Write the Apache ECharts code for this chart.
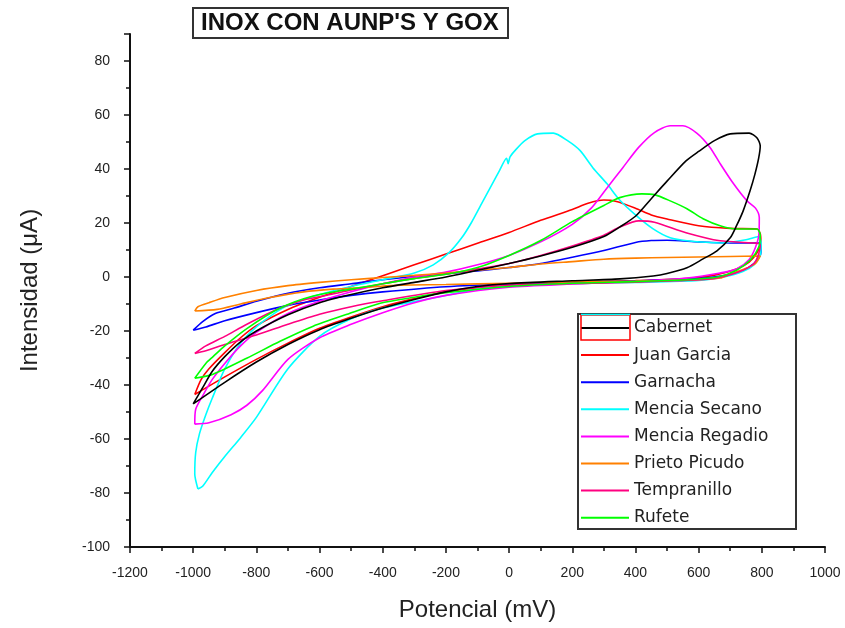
<!DOCTYPE html>
<html>
<head>
<meta charset="utf-8">
<script src="https://cdn.jsdelivr.net/npm/echarts@6/dist/echarts.min.js"></script>
<style>
  html, body { margin: 0; padding: 0; background: #fff; }
  #main { width: 845px; height: 628px; }
</style>
</head>
<body>
<div id="main"></div>
<script>
// potential (mV), current (uA), one closed loop per wine
const cabernet = [
  [-1000,-47],[-970,-41],[-940,-35],[-900,-29.5],[-850,-24],[-800,-20],[-700,-14],[-600,-9.5],[-500,-6.5],
  [-400,-4],[-300,-2],[-200,0],[-100,2.5],[0,5],[100,7.8],[200,11],[300,15],[350,18.5],[400,22.5],[450,29],
  [500,35.5],[560,43],[600,46.5],[650,50.5],[700,53],[760,53.3],[785,51.5],[795,48.5],
  [790,44],[778,38],[763,32],[741,24.5],[720,19],[700,14.5],[658,9.7],[614,6.7],[563,3.4],[500,1.3],
  [456,0.4],[351,-0.7],[200,-1.4],[0,-2.4],[-100,-3.5],[-200,-5.5],[-300,-8.3],[-400,-11.5],[-500,-15.3],
  [-600,-19.5],[-700,-25],[-800,-31.5],[-900,-39],[-1000,-47]
];
const juanGarcia = [
  [-995,-43.5],[-975,-38],[-950,-34],[-900,-28],[-850,-22.5],[-800,-18],[-700,-12],[-600,-7.5],[-500,-3.5],
  [-400,0.5],[-300,4.5],[-200,8.5],[-100,12.5],[0,16.5],[100,21],[200,25],[250,27.3],[300,28.5],[340,28],
  [400,25.5],[450,23],[500,21.5],[600,19],[700,18],[785,17.8],[795,16],
  [797,13],[785,9],[760,5.5],[720,3],[650,0.7],[550,-0.7],[400,-1.3],[200,-2],[0,-2.8],[-200,-5.5],
  [-300,-8],[-400,-11],[-500,-14.8],[-600,-19],[-700,-24.5],[-800,-30.5],[-900,-37],[-995,-43.5]
];
const garnacha = [
  [-1000,-19.7],[-970,-16.5],[-930,-13.5],[-870,-11.5],[-800,-9],[-700,-6],[-600,-4],[-500,-2.5],[-400,-1],
  [-300,0.2],[-200,1.2],[-100,2.2],[0,3.5],[100,5],[200,7.3],[300,9.8],[400,12.8],[450,13.5],[500,13.6],
  [600,13],[700,12.6],[790,12.6],[798,11],
  [795,8],[775,5],[740,2.5],[680,0.5],[600,-0.6],[400,-1.4],[200,-2],[0,-2.6],[-200,-3.6],[-400,-5.5],
  [-500,-6.8],[-600,-8.5],[-700,-10.5],[-800,-13.2],[-900,-16.2],[-960,-18.5],[-1000,-19.7]
];
const menciaSecano = [
  [-985,-78.5],[-995,-73],[-992,-65],[-980,-58],[-960,-51],[-940,-45],[-900,-34],[-850,-24.5],[-800,-18.5],
  [-750,-14],[-700,-10.5],[-600,-6.5],[-500,-3.5],[-400,-1],[-300,1.5],[-240,4.5],[-190,9],[-150,14.5],
  [-120,20],[-90,26.5],[-60,33],[-30,39.5],[-8,44],[-3,42],[3,44.5],[20,47],[50,50.5],[90,53],[140,53.3],
  [185,50.5],[225,46.8],[265,40.5],[310,34.5],[350,28.5],[400,23],[456,17.8],[510,14.5],[563,13.4],
  [668,12.6],[750,13.8],[790,15],[798,12],
  [795,8],[775,4.5],[740,2],[680,0],[600,-1.3],[400,-2],[200,-2.5],[0,-3.3],[-100,-4.5],[-240,-7.8],
  [-400,-11.5],[-500,-15.5],[-600,-22],[-700,-34],[-800,-52],[-850,-59.5],[-900,-66.5],[-940,-72.5],
  [-970,-77.5],[-985,-78.5]
];
const menciaRegadio = [
  [-995,-54.5],[-992,-49],[-970,-44],[-940,-38],[-900,-32],[-850,-25.5],[-800,-20.5],[-700,-13.5],[-600,-9],
  [-500,-5.5],[-400,-2.5],[-300,0],[-200,1.8],[-100,4.5],[0,8],[100,13],[200,19.5],[260,25.5],[310,33],
  [360,40.5],[410,48],[460,53.5],[510,56],[550,56],[595,53.2],[636,48],[668,42],[710,34.6],[753,28.2],
  [780,25.5],[792,22],[791,16],[780,11],
  [760,6.5],[720,3],[668,1.5],[563,-0.4],[400,-1.6],[200,-2.6],[0,-3.8],[-200,-6.8],[-300,-9.5],[-400,-13.2],
  [-500,-17.5],[-600,-22.5],[-700,-30.5],[-780,-42],[-830,-47.5],[-880,-51],[-950,-54],[-995,-54.5]
];
const prietoPicudo = [
  [-995,-12.6],[-985,-11],[-950,-9.5],[-900,-7.6],[-800,-5],[-700,-3.2],[-600,-2],[-500,-1],[-400,-0.2],
  [-300,0.6],[-200,1.5],[-100,2.5],[0,3.5],[100,4.8],[200,5.7],[300,6.6],[400,7],[500,7.2],[600,7.4],
  [700,7.6],[795,7.8],
  [780,5],[750,3.2],[700,1],[668,-0.4],[600,-1],[400,-1.5],[200,-1.8],[0,-2.3],[-200,-2.8],[-345,-3],
  [-450,-3.8],[-557,-4.5],[-650,-5.5],[-766,-7.8],[-850,-10],[-924,-12],[-995,-12.6]
];
const tempranillo = [
  [-995,-28.3],[-960,-25.5],[-900,-22],[-830,-17.5],[-725,-11.5],[-650,-8.5],[-566,-6.5],[-500,-4.8],
  [-400,-2.5],[-300,-0.5],[-200,1],[-100,3],[0,5],[100,8],[200,11.5],[300,15.5],[350,18.5],[410,20.8],
  [460,20.3],[560,16.4],[668,13.4],[772,12.6],[795,12],
  [790,8.5],[775,5],[730,2],[650,-0.5],[500,-1.5],[300,-2.2],[0,-3],[-200,-5],[-400,-8.8],[-500,-11],
  [-600,-13.8],[-700,-17.5],[-800,-21.5],[-900,-25],[-960,-27.3],[-995,-28.3]
];
const rufete = [
  [-995,-37.5],[-960,-32],[-937,-29.5],[-900,-25.5],[-829,-19],[-725,-11.5],[-620,-7],[-500,-4.5],[-400,-2.5],
  [-300,-0.6],[-200,1],[-100,3.5],[0,8],[100,13.5],[200,20.5],[300,26.5],[350,29.4],[420,30.8],[460,30.5],
  [510,28.2],[563,25.3],[614,21.6],[668,19],[720,17.8],[785,17.8],[795,15.5],
  [790,11],[765,6.5],[720,2.5],[660,0],[560,-1],[400,-1.7],[200,-2.3],[0,-3.5],[-200,-5.8],[-300,-7.5],
  [-408,-9.7],[-513,-13.8],[-620,-18.2],[-725,-23.8],[-829,-30],[-937,-36],[-995,-37.5]
];

const names = ['Cabernet','Juan Garcia','Garnacha','Mencia Secano','Mencia Regadio','Prieto Picudo','Tempranillo','Rufete'];
const colors = ['#000000','#ff0000','#0000ff','#00ffff','#ff00ff','#ff8000','#ff0080','#00ff00'];
const loops = [cabernet, juanGarcia, garnacha, menciaSecano, menciaRegadio, prietoPicudo, tempranillo, rufete];

const font = 'Liberation Sans, Arial, sans-serif';

let myChart = echarts.init(document.getElementById('main'));
let option = {
  animation: false,
  backgroundColor: '#fff',
  title: {
    text: "INOX CON AUNP'S Y GOX",
    left: 193,
    top: 8,
    padding: [3, 9, 3, 8],
    borderColor: '#333',
    borderWidth: 2,
    textStyle: { fontFamily: font, fontSize: 24, fontWeight: 'bold', color: '#111' }
  },
  legend: {
    orient: 'vertical',
    left: 581,
    top: 318,
    padding: 0,
    icon: 'rect',
    itemWidth: 48,
    itemHeight: 2,
    itemGap: 7.1,
    data: names,
    textStyle: { fontFamily: 'DejaVu Sans', fontSize: 17, lineHeight: 20, color: '#222' }
  },
  graphic: [
    { type: 'rect', shape: { x: 578, y: 314, width: 218, height: 215 },
      style: { fill: 'none', stroke: '#333', lineWidth: 2 }, z: 10 },
    { type: 'rect', shape: { x: 581, y: 315, width: 49, height: 25 },
      style: { fill: 'none', stroke: '#ff0000', lineWidth: 1.5 }, z: 11 },
    { type: 'line', shape: { x1: 581, y1: 314.5, x2: 630, y2: 314.5 },
      style: { stroke: '#00ffff', lineWidth: 1.5 }, z: 12 }
  ],
  grid: { left: 130, right: 20, top: 34, bottom: 81 },
  xAxis: {
    type: 'value',
    min: -1200,
    max: 1000,
    interval: 200,
    name: 'Potencial (mV)',
    nameLocation: 'middle',
    nameGap: 51,
    nameTextStyle: { fontFamily: font, fontSize: 24, color: '#222' },
    axisLine: { onZero: false, lineStyle: { color: '#111', width: 2 } },
    axisTick: { inside: false, length: 6, lineStyle: { color: '#111', width: 1.5 } },
    minorTick: { show: true, splitNumber: 2, length: 4, lineStyle: { color: '#111', width: 1.5 } },
    axisLabel: { margin: 19, fontFamily: font, fontSize: 14, color: '#222', formatter: v => String(v) },
    splitLine: { show: false }
  },
  yAxis: {
    type: 'value',
    min: -100,
    max: 90,
    interval: 20,
    name: 'Intensidad (μA)',
    nameLocation: 'middle',
    nameGap: 88,
    nameTextStyle: { fontFamily: font, fontSize: 24, color: '#222' },
    axisLine: { onZero: false, lineStyle: { color: '#111', width: 2 } },
    axisTick: { inside: false, length: 6, lineStyle: { color: '#111', width: 1.5 } },
    minorTick: { show: true, splitNumber: 2, length: 4, lineStyle: { color: '#111', width: 1.5 } },
    axisLabel: { margin: 20, fontFamily: font, fontSize: 14, color: '#222', showMaxLabel: false, formatter: v => String(v) },
    splitLine: { show: false }
  },
  series: loops.map((d, i) => ({
    name: names[i],
    type: 'line',
    data: d,
    symbol: 'none',
    smooth: 0.25,
    color: colors[i],
    lineStyle: { width: 1.6, color: colors[i] },
    z: i === 0 ? 3 : 2
  }))
};
myChart.setOption(option);
window.onresize = function () {
  myChart.resize()
}
</script>
</body>
</html>
